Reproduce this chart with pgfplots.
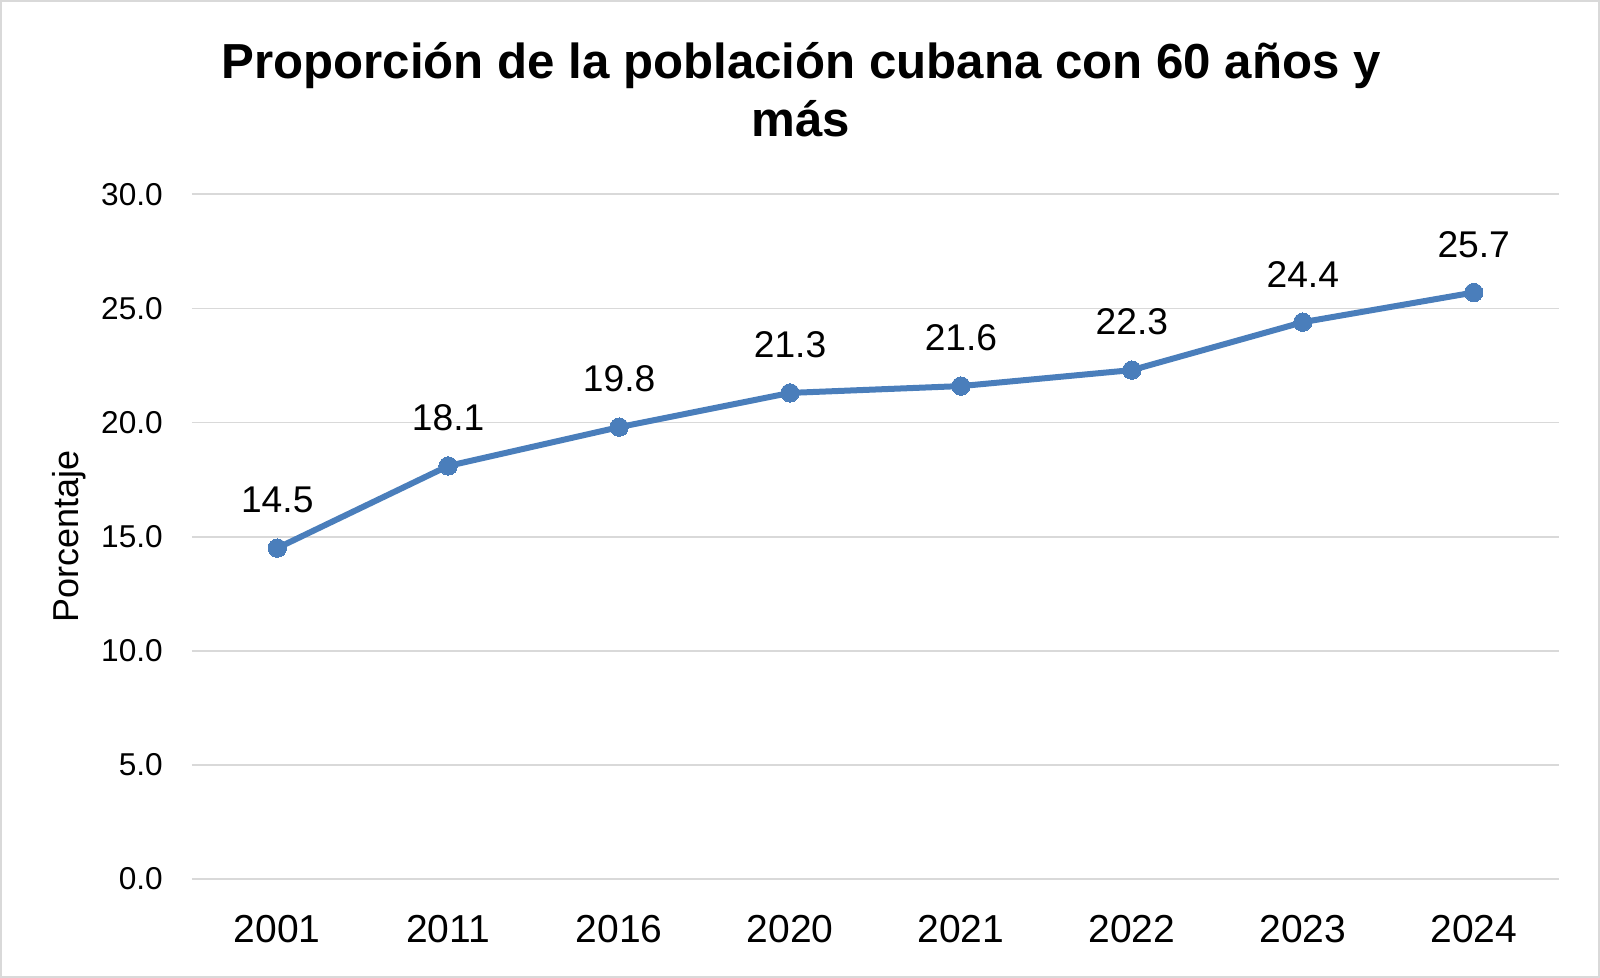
\documentclass[border=0pt]{standalone}
\usepackage{pgfplots}
\pgfplotsset{compat=1.18}
\usepackage{fontspec}
\setmainfont{Liberation Sans}

\definecolor{serie}{HTML}{4A7EBB}
\definecolor{rejilla}{HTML}{D9D9D9}

\begin{document}
\begin{tikzpicture}
\draw[rejilla, line width=1pt] (0.5pt,0.5pt) rectangle (799.5pt,488.5pt);
\begin{axis}[
    at={(95.9pt,49.5pt)}, anchor=south west,
    scale only axis,
    width=683.7pt, height=342.3pt,
    xmin=-0.5, xmax=7.5,
    ymin=0, ymax=30,
    axis line style={draw=none},
    xtick=data,
    xticklabels={2001,2011,2016,2020,2021,2022,2023,2024},
    ytick={0,5,...,30},
    major tick length=0pt,
    ymajorgrids=true,
    grid style={rejilla, line width=0.9pt},
    /pgf/number format/assume math mode=true,
    yticklabel={\pgfmathprintnumber[fixed,fixed zerofill,precision=1]{\tick}},
    yticklabel style={font=\fontsize{15.8}{19}\selectfont, xshift=-11pt},
    xticklabel style={font=\fontsize{19.5}{23}\selectfont, yshift=-14.5pt},
    ylabel={Porcentaje},
    ylabel style={at={(axis description cs:-0.0895,0.5)}, anchor=center, font=\fontsize{18}{21}\selectfont},
    nodes near coords,
    nodes near coords style={black, font=\fontsize{18.6}{22}\selectfont, inner sep=0pt, anchor=south, yshift=17.5pt,
        /pgf/number format/.cd, fixed, fixed zerofill, precision=1, assume math mode=true},
    clip=false,
]
\addplot[serie, line width=3pt, mark=*, mark size=4.6pt, mark options={fill=serie, draw=serie, line width=0pt}]
    coordinates {(0,14.5)(1,18.1)(2,19.8)(3,21.3)(4,21.6)(5,22.3)(6,24.4)(7,25.7)};
\end{axis}
\node[align=center, font=\fontsize{24.6}{29}\selectfont\bfseries] at (400.5pt,444pt)
    {Proporción de la población cubana con 60 años y\\más};
\pgfresetboundingbox
\useasboundingbox (0,0) rectangle (800pt,489pt);
\end{tikzpicture}
\end{document}
